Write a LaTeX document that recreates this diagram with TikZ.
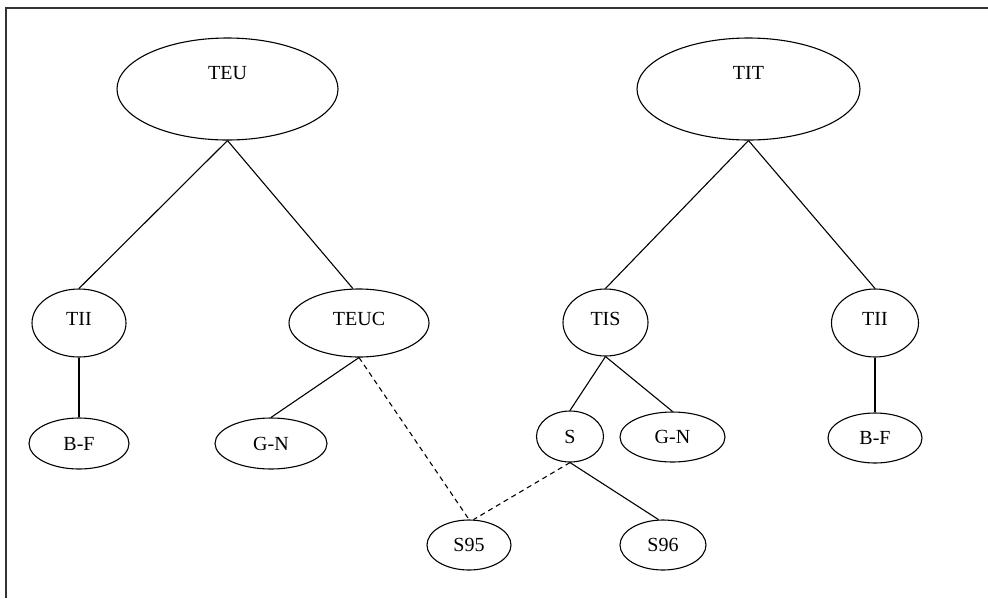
\documentclass[tikz,border=0pt]{standalone}
\usepackage{fontspec}
\setmainfont{Liberation Serif}
\usetikzlibrary{shapes.geometric}
\tikzset{
  ent/.style={ellipse, draw, line width=1.1pt, inner sep=0pt, text depth=0pt,
    font=\fontsize{20}{23}\selectfont},
  link/.style={line width=1.1pt},
  weak/.style={line width=1.1pt, dash pattern=on 5pt off 4pt}
}
\begin{document}
\begin{tikzpicture}[x=1pt,y=-1pt]
    \useasboundingbox (0,0) rectangle (988,598);
    \draw[line width=1.3pt, black!80] (6,598) -- (6,8) -- (988,8);
    % set up the nodes
    \node[ent, minimum width=221, minimum height=102, text depth=32pt] (TEU) at (227.5,89) {TEU};
    \node[ent, minimum width=223, minimum height=102, text depth=32pt] (TIT) at (748.5,89) {TIT};

    \node[ent, minimum width=94, minimum height=68, text depth=8pt] (TIIa) at (79,323) {TII};
    \node[ent, minimum width=140, minimum height=68, text depth=8pt] (TEUC) at (359,323) {TEUC};
    \node[ent, minimum width=85, minimum height=67, text depth=8pt] (TIS) at (605.5,322.5) {TIS};
    \node[ent, minimum width=87, minimum height=68, text depth=8pt] (TIIb) at (875,323) {TII};

    \node[ent, minimum width=100, minimum height=51] (BFa) at (79,443.5) {B-F};
    \node[ent, minimum width=112, minimum height=51] (GNa) at (271,443.5) {G-N};
    \node[ent, minimum width=67, minimum height=51] (S) at (570,436.5) {S};
    \node[ent, minimum width=105, minimum height=50] (GNb) at (672.5,437) {G-N};
    \node[ent, minimum width=94, minimum height=50] (BFb) at (875,438) {B-F};

    \node[ent, minimum width=84, minimum height=50] (S95) at (469,545) {S95};
    \node[ent, minimum width=86, minimum height=50] (S96) at (663,545) {S96};
    % draw lines between them
    \draw[link] (TEU.south) -- (TIIa.north);
    \draw[link] (TEU.south) -- (TEUC.100);
    \draw[link] (TIIa.south) -- (BFa.north);
    \draw[link] (TEUC.south) -- (GNa.north);
    \draw[weak] (TEUC.south) -- (S95.north);
    \draw[link] (TIT.south) -- (TIS.north);
    \draw[link] (TIT.south) -- (TIIb.north);
    \draw[link] (TIIb.south) -- (BFb.north);
    \draw[link] (TIS.south) -- (S.north);
    \draw[link] (TIS.south) -- (GNb.north);
    \draw[link] (S.south) -- (S96.100);
    \draw[weak] (S.south) -- (S95.80);
\end{tikzpicture}
\end{document}
